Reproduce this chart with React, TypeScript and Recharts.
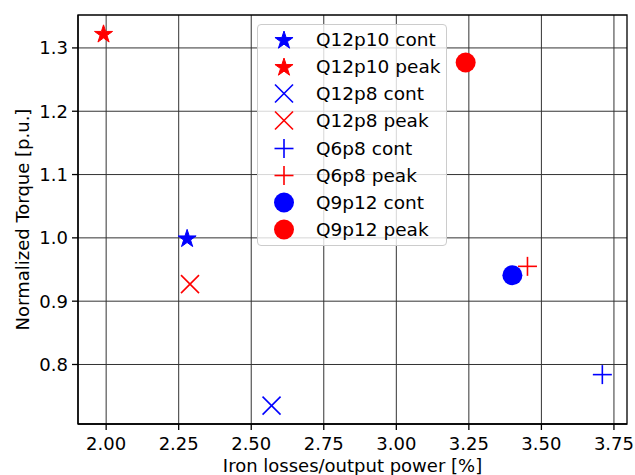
import React from "react";
import {
  ScatterChart,
  Scatter,
  XAxis,
  YAxis,
  CartesianGrid,
  Legend,
  ReferenceArea,
  Label,
} from "recharts";

const seriesNames = [
  "Q12p10 cont",
  "Q12p10 peak",
  "Q12p8 cont",
  "Q12p8 peak",
  "Q6p8 cont",
  "Q6p8 peak",
  "Q9p12 cont",
  "Q9p12 peak",
];
const lossPct = [2.279, 1.991, 2.57, 2.289, 3.71, 3.452, 3.4, 3.239];
const torquePu = [1.0, 1.323, 0.735, 0.927, 0.784, 0.955, 0.941, 1.277];

const xTicks = [2.0, 2.25, 2.5, 2.75, 3.0, 3.25, 3.5, 3.75];
const yTicks = [0.8, 0.9, 1.0, 1.1, 1.2, 1.3];
const xDomain = [1.903, 3.795];
const yDomain = [0.706, 1.352];

type Kind = "star" | "x" | "plus" | "circle";
const kinds: Kind[] = ["star", "star", "x", "x", "plus", "plus", "circle", "circle"];
const colors = ["#0000ff", "#ff0000", "#0000ff", "#ff0000", "#0000ff", "#ff0000", "#0000ff", "#ff0000"];

const FONT = "DejaVu Sans";
const FS = 18;

function starPath(cx: number, cy: number, R: number) {
  const r = R * 0.381966;
  const pts: string[] = [];
  for (let i = 0; i < 10; i++) {
    const rad = i % 2 === 0 ? R : r;
    const a = -Math.PI / 2 + (i * Math.PI) / 5;
    pts.push(`${(cx + rad * Math.cos(a)).toFixed(2)},${(cy + rad * Math.sin(a)).toFixed(2)}`);
  }
  return "M" + pts.join("L") + "Z";
}

function Marker({ kind, color, cx, cy }: { kind: Kind; color: string; cx: number; cy: number }) {
  if (kind === "star") return <path d={starPath(cx, cy + 1, 9.5)} fill={color} stroke={color} strokeWidth={1} />;
  if (kind === "circle") return <circle cx={cx} cy={cy} r={10} fill={color} />;
  if (kind === "x") {
    const h = 9;
    return (
      <g stroke={color} strokeWidth={1.6}>
        <line x1={cx - h} y1={cy - h} x2={cx + h} y2={cy + h} />
        <line x1={cx - h} y1={cy + h} x2={cx + h} y2={cy - h} />
      </g>
    );
  }
  const h = 9.5;
  return (
    <g stroke={color} strokeWidth={1.6}>
      <line x1={cx - h} y1={cy} x2={cx + h} y2={cy} />
      <line x1={cx} y1={cy - h} x2={cx} y2={cy + h} />
    </g>
  );
}

function LegendBox() {
  return (
    <div
      style={{
        width: 188,
        height: 220,
        border: "1px solid #cccccc",
        borderRadius: 4,
        background: "rgba(255,255,255,0.8)",
        fontFamily: FONT,
        fontSize: 18.5,
        color: "#000",
        position: "relative",
        boxSizing: "content-box",
      }}
    >
      {seriesNames.map((name, i) => (
        <div
          key={name}
          style={{ position: "absolute", left: 0, top: 14.6 + i * 27.1 - 13.5, height: 27, width: 188 }}
        >
          <svg width={40} height={27} style={{ position: "absolute", left: 6, top: 0 }}>
            <Marker kind={kinds[i]} color={colors[i]} cx={20} cy={13.5} />
          </svg>
          <span style={{ position: "absolute", left: 58, top: 2, lineHeight: "23px", whiteSpace: "nowrap" }}>
            {name}
          </span>
        </div>
      ))}
    </div>
  );
}

export default function App() {
  return (
    <div style={{ position: "absolute", left: 0, top: 0, width: 635, height: 475, background: "#fff" }}>
      <ScatterChart width={635} height={475} margin={{ top: 15, right: 8, bottom: 0, left: 0 }}>
        <CartesianGrid stroke="#333" strokeWidth={1} horizontalValues={yTicks} verticalValues={xTicks} />
        <XAxis
          type="number"
          dataKey="x"
          domain={xDomain}
          ticks={xTicks}
          allowDataOverflow
          height={51}
          tickSize={6}
          tickMargin={7}
          tickFormatter={(v) => Number(v).toFixed(2)}
          tick={{ fill: "#000", fontSize: FS, fontFamily: FONT }}
          axisLine={{ stroke: "#000", strokeWidth: 1.3 }}
          tickLine={{ stroke: "#000", strokeWidth: 1.3 }}
        >
          <Label
            value="Iron losses/output power [%]"
            position="insideBottom"
            offset={3}
            style={{ fill: "#000", fontSize: FS, fontFamily: FONT }}
          />
        </XAxis>
        <YAxis
          type="number"
          dataKey="y"
          domain={yDomain}
          ticks={yTicks}
          allowDataOverflow
          width={78}
          tickSize={6}
          tickMargin={4}
          tickFormatter={(v) => Number(v).toFixed(1)}
          tick={{ fill: "#000", fontSize: FS, fontFamily: FONT }}
          axisLine={{ stroke: "#000", strokeWidth: 1.3 }}
          tickLine={{ stroke: "#000", strokeWidth: 1.3 }}
        >
          <Label
            content={(props: any) => {
              const vb = props.viewBox || { x: 0, y: 15, width: 78, height: 409 };
              const x = vb.x + 29;
              const y = vb.y + vb.height / 2;
              return (
                <text
                  x={x}
                  y={y}
                  transform={`rotate(-90, ${x}, ${y})`}
                  textAnchor="middle"
                  style={{ fill: "#000", fontSize: FS, fontFamily: FONT }}
                >
                  Normalized Torque [p.u.]
                </text>
              );
            }}
          />
        </YAxis>
        <ReferenceArea
          x1={xDomain[0]}
          x2={xDomain[1]}
          y1={yDomain[0]}
          y2={yDomain[1]}
          fill="none"
          stroke="#000"
          strokeWidth={1.3}
          ifOverflow="visible"
        />
        {seriesNames.map((name, i) => (
          <Scatter
            key={name}
            name={name}
            data={[{ x: lossPct[i], y: torquePu[i] }]}
            isAnimationActive={false}
            shape={(p: any) => <Marker kind={kinds[i]} color={colors[i]} cx={p.cx} cy={p.cy} />}
          />
        ))}
        <Legend
          layout="vertical"
          align="center"
          verticalAlign="middle"
          wrapperStyle={{ left: 257, top: 24, width: 190, height: 222 }}
          content={() => <LegendBox />}
        />
      </ScatterChart>
    </div>
  );
}
